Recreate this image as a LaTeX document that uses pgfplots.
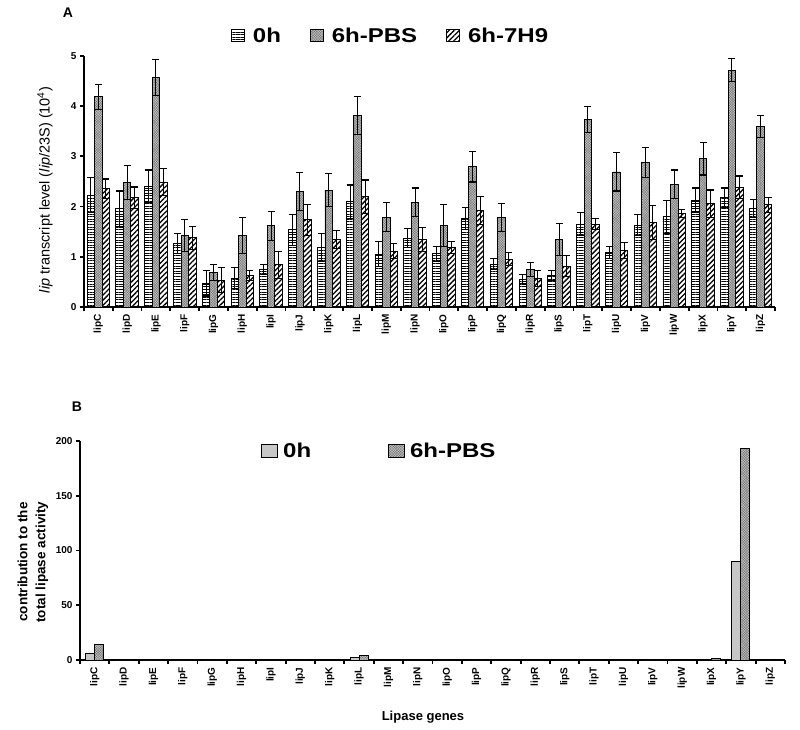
\documentclass[border=0pt]{standalone}
\usepackage{pgfplots}
\pgfplotsset{compat=1.18}
\usepackage{pgfplotstable}
\usetikzlibrary{patterns.meta}
\usepackage{fontspec}
\setmainfont{Liberation Sans}

\pgfplotstableread{
x a ae b be c ce
0 2.23 0.35 4.19 0.25 2.36 0.19
1 1.96 0.35 2.48 0.33 2.18 0.21
2 2.41 0.32 4.57 0.36 2.49 0.26
3 1.26 0.20 1.43 0.32 1.38 0.23
4 0.47 0.25 0.68 0.16 0.53 0.25
5 0.57 0.21 1.42 0.36 0.62 0.10
6 0.74 0.10 1.62 0.29 0.84 0.27
7 1.54 0.31 2.30 0.38 1.74 0.31
8 1.18 0.28 2.33 0.33 1.34 0.18
9 2.10 0.33 3.81 0.38 2.20 0.33
10 1.05 0.25 1.79 0.29 1.11 0.15
11 1.37 0.19 2.09 0.28 1.34 0.24
12 1.06 0.15 1.63 0.42 1.18 0.12
13 1.77 0.22 2.79 0.30 1.92 0.28
14 0.85 0.11 1.79 0.28 0.95 0.13
15 0.55 0.09 0.74 0.14 0.57 0.16
16 0.63 0.10 1.34 0.32 0.81 0.21
17 1.65 0.23 3.74 0.26 1.65 0.11
18 1.08 0.12 2.69 0.38 1.13 0.16
19 1.63 0.21 2.88 0.30 1.68 0.34
20 1.80 0.33 2.45 0.28 1.86 0.08
21 2.13 0.24 2.95 0.32 2.06 0.27
22 2.18 0.19 4.72 0.23 2.39 0.22
23 1.97 0.18 3.60 0.22 2.04 0.15
}\topdata

\pgfplotstableread{
x a b
0 6 14
1 0 0
2 0 0
3 0 0
4 0 0
5 0 0
6 0 0
7 0 0
8 0.4 0.9
9 2 4
10 0 0
11 0 0
12 0 0
13 0 0
14 0 0
15 0 0
16 0 0
17 0 0
18 0 0
19 0 0
20 0 0
21 0.6 1.2
22 90 193
23 0 0
}\botdata

\tikzset{
  s0h/.style={draw=black, line width=0.9pt, pattern={Lines[angle=0,distance=2.6pt,line width=1pt]}, pattern color=black},
  spbs/.style={draw=black, line width=0.9pt, fill=black!58, postaction={pattern={Hatch[angle=45,distance=1.8pt,line width=0.5pt]}, pattern color=black!25}},
  s7h9/.style={draw=black, line width=0.9pt, pattern={Lines[angle=45,distance=3.6pt,line width=1.3pt]}, pattern color=black},
  sgray/.style={draw=black, line width=0.9pt, fill=black!22},
}

\pgfplotsset{
  common/.style={
    scale only axis,
    xmin=-0.5, xmax=23.5, ymin=0,
    axis lines=left,
    axis line style={-, line width=2.2pt},
    tick align=outside,
    tick style={line width=1.8pt, black},
    major tick length=4pt, minor tick length=4pt,
    xtick={0,...,23},
    xticklabels={lipC,lipD,lipE,lipF,lipG,lipH,lipI,lipJ,lipK,lipL,lipM,lipN,lipO,lipP,lipQ,lipR,lipS,lipT,lipU,lipV,lipW,lipX,lipY,lipZ},
    major x tick style={draw=none},
    minor xtick={-0.5,0.5,...,23.5},
    x tick label style={rotate=90, anchor=east, font=\bfseries\fontsize{10}{10}\selectfont},
    y tick label style={font=\bfseries\fontsize{10}{10}\selectfont},
    /pgf/number format/assume math mode=true,
    legend cell align=left,
  },
}

\begin{document}
\begin{tikzpicture}
\useasboundingbox (0pt,0pt) rectangle (800pt,729pt);

\begin{axis}[common,
  at={(84pt,422pt)}, anchor=south west,
  width=691pt, height=251pt,
  ymax=5, ytick={0,1,2,3,4,5},
  ybar=0pt, bar width=7.5pt,
  ylabel={\textit{lip} transcript level (\textit{lip}/23S) (10\textsuperscript{4})},
  ylabel style={at={(axis description cs:-0.0564,0.466)}, anchor=center, font=\fontsize{14.5}{15}\selectfont},
  legend columns=3,
  legend image code/.code={\draw[#1, line width=0.9pt] (0pt,-6pt) rectangle (13pt,6pt);},
  legend style={at={(0.443,1.080)}, anchor=center, draw=none, fill=none,
    font=\bfseries\fontsize{20}{20}\selectfont, nodes={inner sep=1pt},
    /tikz/every odd column/.append style={column sep=7pt},
    /tikz/every even column/.append style={column sep=28pt}},
]
\addplot[s0h, error bars/.cd, y dir=both, y explicit, error bar style={line width=1pt, black, solid}, error mark options={rotate=90, mark size=3.5pt, line width=1.1pt, black}] table[x=x, y=a, y error=ae] {\topdata};
\addlegendentry{\scalebox{1.2}[1]{0h}}
\addplot[spbs, error bars/.cd, y dir=both, y explicit, error bar style={line width=1pt, black, solid}, error mark options={rotate=90, mark size=3.5pt, line width=1.1pt, black}] table[x=x, y=b, y error=be] {\topdata};
\addlegendentry{\scalebox{1.2}[1]{6h-PBS}}
\addplot[s7h9, error bars/.cd, y dir=both, y explicit, error bar style={line width=1pt, black, solid}, error mark options={rotate=90, mark size=3.5pt, line width=1.1pt, black}] table[x=x, y=c, y error=ce] {\topdata};
\addlegendentry{\scalebox{1.2}[1]{6h-7H9}}
\end{axis}

\begin{axis}[common,
  at={(80pt,69pt)}, anchor=south west,
  width=705pt, height=219pt,
  ymax=200, ytick={0,50,100,150,200},
  ybar=0pt, bar width=9pt,
  ylabel={contribution to the\\total lipase activity},
  ylabel style={at={(axis description cs:-0.067,0.447)}, anchor=center, align=center, font=\bfseries\fontsize{13.5}{18}\selectfont},
  xlabel={Lipase genes},
  xlabel style={at={(axis description cs:0.4865,-0.26)}, anchor=center, font=\bfseries\fontsize{13}{14}\selectfont},
  legend columns=2,
  legend image code/.code={\draw[#1, line width=0.9pt] (0pt,-6.5pt) rectangle (16pt,6.5pt);},
  legend style={at={(0.424,0.954)}, anchor=center, draw=none, fill=none,
    font=\bfseries\fontsize{20}{20}\selectfont, nodes={inner sep=1pt},
    /tikz/every odd column/.append style={column sep=4pt},
    /tikz/every even column/.append style={column sep=76pt}},
]
\addplot[sgray] table[x=x, y=a] {\botdata};
\addlegendentry{\scalebox{1.2}[1]{0h}}
\addplot[spbs] table[x=x, y=b] {\botdata};
\addlegendentry{\scalebox{1.2}[1]{6h-PBS}}
\end{axis}

\node[font=\bfseries\fontsize{14}{14}\selectfont] at (68pt,716pt) {A};
\node[font=\bfseries\fontsize{14}{14}\selectfont] at (77pt,322pt) {B};
\end{tikzpicture}
\end{document}
